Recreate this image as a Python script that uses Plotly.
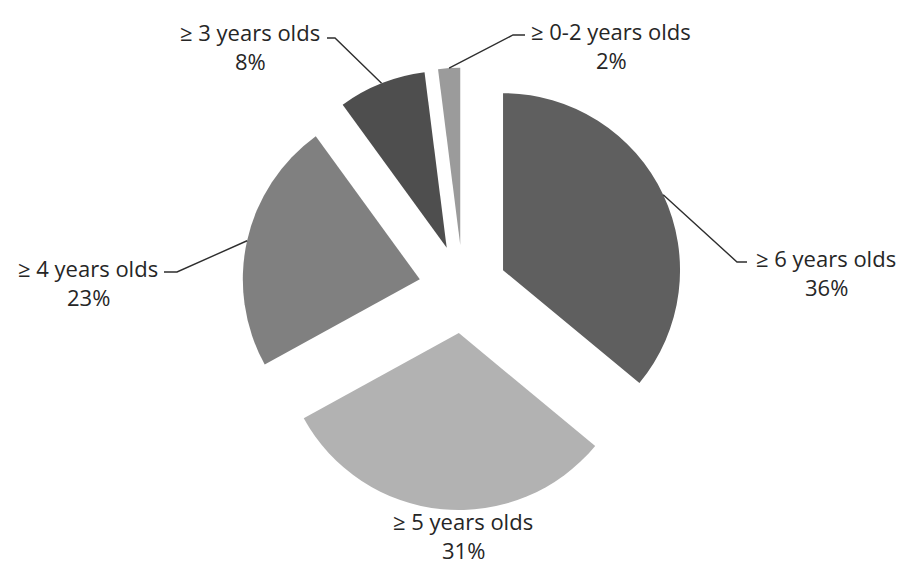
import math
import plotly.graph_objects as go

# ---- data ----
categories = ["≥ 6 years olds", "≥ 5 years olds", "≥ 4 years olds", "≥ 3 years olds", "≥ 0-2 years olds"]
values = [36, 31, 23, 8, 2]
pct_labels = ["36%", "31%", "23%", "8%", "2%"]

# ---- style / layout ----
colors = ["#5f5f5f", "#b2b2b2", "#808080", "#4e4e4e", "#9b9b9b"]
W, H = 903, 564
CX, CY = 463, 289          # pie centre in pixels
R = 177                    # radius in pixels
PULL = 0.25
FONT = "Open Sans"
FSIZE = 22
TXT = "#262626"

# label layout (pixels): label centre x, first line y, elbow point, line end, has leader
label_layout = [
    dict(cx=826, y=258, elbow=(737, 262), end=(747, 262), leader=True),
    dict(cx=463, y=521, elbow=None, end=None, leader=False),
    dict(cx=88, y=268, elbow=(177, 272), end=(164, 272), leader=True),
    dict(cx=250, y=32, elbow=(335, 38), end=(327, 38), leader=True),
    dict(cx=611, y=31, elbow=(513, 35), end=(525, 35), leader=True),
]
LINE_GAP = 29

half = R * (1 + PULL)
dom_x = [(CX - half) / W, (CX + half) / W]
dom_y = [(H - CY - half) / H, (H - CY + half) / H]

def px(x):
    return x / W

def py(y):
    return 1 - y / H

fig = go.Figure(go.Pie(
    labels=categories,
    values=values,
    sort=False,
    direction="clockwise",
    rotation=0,
    pull=[PULL] * len(values),
    marker=dict(colors=colors, line=dict(width=0)),
    textinfo="none",
    hoverinfo="label+percent",
    domain=dict(x=dom_x, y=dom_y),
    showlegend=False,
))

total = sum(values)
cum = 0
shapes = []
annotations = []
for i, v in enumerate(values):
    mid = (cum + v / 2) / total * 2 * math.pi
    cum += v
    lay = label_layout[i]
    if lay["leader"]:
        sx = CX + R * (1 + PULL) * math.sin(mid)
        sy = CY - R * (1 + PULL) * math.cos(mid)
        ex, ey = lay["elbow"]
        fx, fy = lay["end"]
        path = f"M {px(sx)},{py(sy)} L {px(ex)},{py(ey)} L {px(fx)},{py(fy)}"
        shapes.append(dict(type="path", xref="paper", yref="paper", path=path,
                           line=dict(color="#2e2e2e", width=1.4)))
    annotations.append(dict(x=px(lay["cx"]), y=py(lay["y"]), xref="paper", yref="paper",
                            text=categories[i], showarrow=False, xanchor="center", yanchor="middle",
                            font=dict(family=FONT, size=FSIZE, color=TXT)))
    annotations.append(dict(x=px(lay["cx"]), y=py(lay["y"] + LINE_GAP), xref="paper", yref="paper",
                            text=pct_labels[i], showarrow=False, xanchor="center", yanchor="middle",
                            font=dict(family=FONT, size=FSIZE, color=TXT)))

fig.update_layout(
    width=W, height=H,
    margin=dict(l=0, r=0, t=0, b=0),
    paper_bgcolor="white",
    plot_bgcolor="white",
    shapes=shapes,
    annotations=annotations,
)

fig.write_html("out.html", config={"displayModeBar": False},
               post_script="document.body.style.margin='0';document.body.style.padding='0';")
